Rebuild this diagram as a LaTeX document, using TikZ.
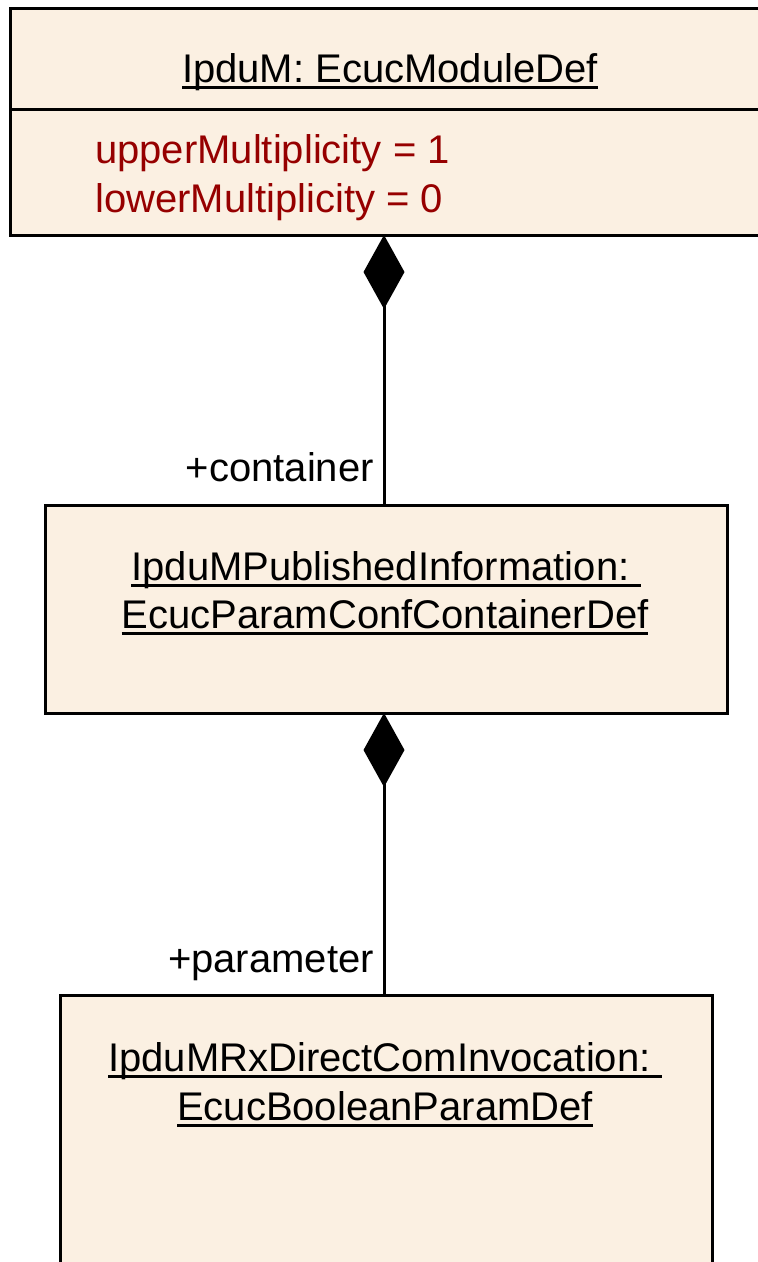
\documentclass[tikz,border=0pt]{standalone}
\usepackage{fontspec}
\setmainfont{Liberation Sans}
\usetikzlibrary{arrows.meta}
\definecolor{boxfill}{RGB}{251,240,226}
\definecolor{attrred}{RGB}{150,0,0}
\newcommand\myul[1]{\setbox0\hbox{#1}\rlap{\rule[-7pt]{\wd0}{3pt}}\box0}
\tikzset{
  umlbox/.style={draw=black, fill=boxfill, line width=3pt, inner sep=0pt},
  txt/.style={anchor=base, inner sep=0pt, font=\fontsize{40}{48}\selectfont},
  attr/.style={txt, anchor=base west, text=attrred},
  role/.style={txt, anchor=base east},
  comp/.style={line width=3pt, -{Diamond[length=74pt,width=41pt]}}
}
\begin{document}
\begin{tikzpicture}[x=1pt,y=-1pt]
\useasboundingbox (0,0) rectangle (758,1262);
\clip (0,0) rectangle (758,1262);
% boxes
\node[umlbox, minimum width=770pt, minimum height=227pt] (mod) at (395,121.5) {};
\draw[line width=3pt] (10,109) coordinate (divl) -- (780,109) coordinate (divr);
\node[umlbox, minimum width=682pt, minimum height=208pt] (cont) at (386,609) {};
\node[umlbox, minimum width=652pt, minimum height=300pt] (par) at (386,1145) {};
% texts
\node[txt] (modt) at (390,82) {\myul{IpduM: EcucModuleDef}};
\node[attr] (a1) at (95,163) {upperMultiplicity = 1};
\node[attr] (a2) at (95,212) {lowerMultiplicity = 0};
\node[txt] (c1) at (386,580) {\myul{IpduMPublishedInformation:\ }};
\node[txt] (c2) at (385,628) {\myul{EcucParamConfContainerDef}};
\node[txt] (p1) at (385,1071) {\myul{IpduMRxDirectComInvocation:\ }};
\node[txt] (p2) at (385,1120) {\myul{EcucBooleanParamDef}};
% connectors
\coordinate (m1) at (384,235);
\coordinate (c1t) at (384,505);
\coordinate (c1b) at (384,713);
\coordinate (p1t) at (384,995);
\draw[comp] (c1t) -- (m1);
\draw[comp] (p1t) -- (c1b);
\node[role] (r1) at (374,481) {+container};
\node[role] (r2) at (374,972) {+parameter};
\end{tikzpicture}
\end{document}
